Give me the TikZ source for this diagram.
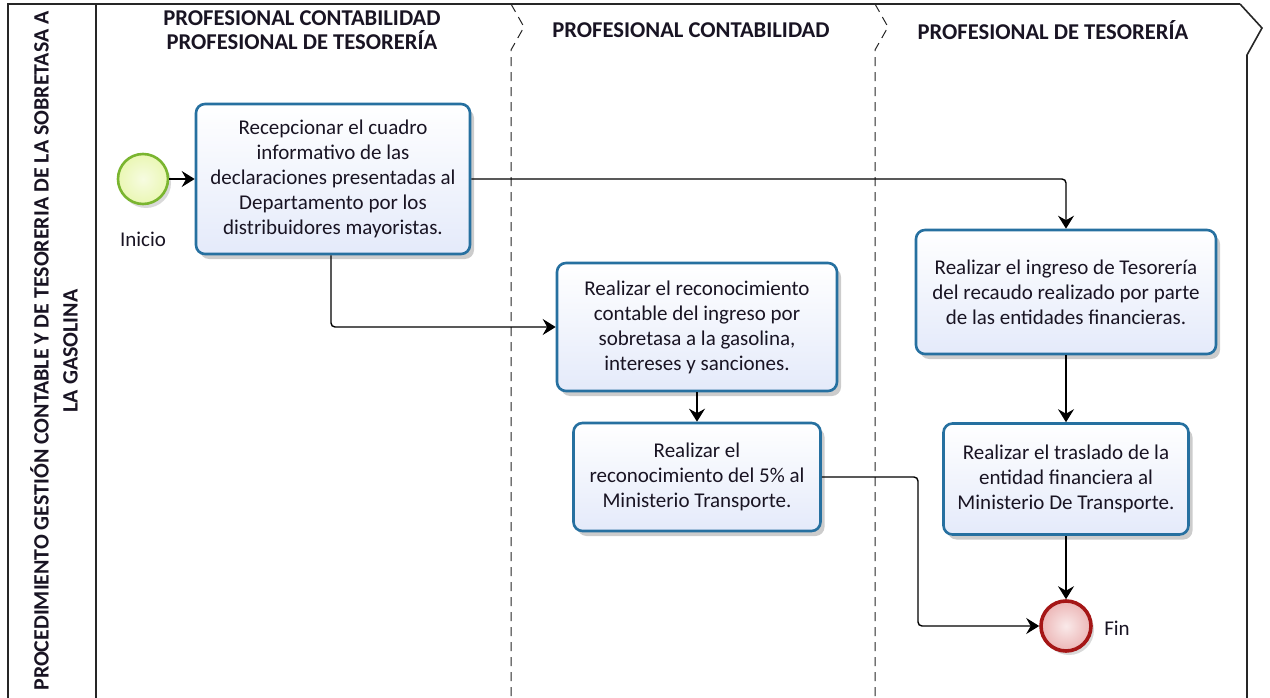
\documentclass[tikz,border=0pt]{standalone}
\usepackage{fontspec}
\setmainfont{Carlito}
\usetikzlibrary{arrows.meta,shadows}
\definecolor{boxblue}{RGB}{38,112,160}
\definecolor{boxfill}{RGB}{228,234,250}
\definecolor{startline}{RGB}{122,181,48}
\definecolor{startfill}{RGB}{234,247,180}
\definecolor{endline}{RGB}{165,22,22}
\definecolor{endfill}{RGB}{236,182,182}
\definecolor{txt}{RGB}{25,20,35}
\begin{document}
\begin{tikzpicture}[x=1pt,y=-1pt,
  font=\fontsize{21}{25}\selectfont, text=txt,
  task/.style={draw=boxblue, line width=2.6pt, rounded corners=9pt,
    top color=white, bottom color=boxfill, align=center, inner sep=0pt,
    drop shadow={shadow xshift=4pt, shadow yshift=-5pt, opacity=0.2, fill=black}},
  flow/.style={-{Stealth[length=13pt,width=16pt,inset=4.5pt]}, line width=1.4pt, rounded corners=4pt},
  hdr/.style={font=\fontsize{22.6}{24}\selectfont\bfseries, align=center},
  lanesep/.style={dash pattern=on 9pt off 6pt, line width=1pt, draw=black!85},
  frame/.style={line width=1.6pt, draw=black!85}]
\useasboundingbox (0,0) rectangle (1270,698);
\fill[white] (0,0) rectangle (1270,698);

% frame and lanes
\draw[frame] (1240,4) -- (8,4) -- (8,698);
\draw[frame] (96,4) -- (96,698);
\draw[frame] (1240,4) -- (1262,28) -- (1247,55) -- (1247,698);
\draw[lanesep] (511,4) -- (524,27) -- (511,50) -- (511,698);
\draw[lanesep] (875,4) -- (888,27) -- (875,50) -- (875,698);

% title
\node[rotate=90, font=\fontsize{21.9}{29}\selectfont\bfseries, align=center] (title) at (54,351)
  {PROCEDIMIENTO GESTIÓN CONTABLE Y DE TESORERIA DE LA SOBRETASA A\\LA GASOLINA};

% lane headers
\node[hdr] (h1) at (302,30) {PROFESIONAL CONTABILIDAD\\PROFESIONAL DE TESORERÍA};
\node[hdr] (h2) at (691,30) {PROFESIONAL CONTABILIDAD};
\node[hdr] (h3) at (1053,30) {PROFESIONAL DE TESORERÍA};

% events
\node[circle, minimum size=50pt, inner sep=0pt, draw=startline, line width=2.6pt,
  inner color=white!60!startfill, outer color=startfill,
  drop shadow={shadow xshift=3pt, shadow yshift=-4pt, opacity=0.15, fill=black}] (start) at (143,179) {};
\node (inicio) at (143,239) {Inicio};
\node[circle, minimum size=50pt, inner sep=0pt, draw=endline, line width=3.6pt,
  inner color=white!70!endfill, outer color=endfill,
  drop shadow={shadow xshift=3pt, shadow yshift=-4pt, opacity=0.15, fill=black}] (fin) at (1066,626) {};
\node (finl) at (1117,628) {Fin};

% tasks
\node[task, minimum width=274pt, minimum height=150pt] (b1) at (333,179)
  {Recepcionar el cuadro\\informativo de las\\declaraciones presentadas al\\Departamento por los\\distribuidores mayoristas.};
\node[task, minimum width=280pt, minimum height=128pt] (b2) at (697,327)
  {Realizar el reconocimiento\\contable del ingreso por\\sobretasa a la gasolina,\\intereses y sanciones.};
\node[task, minimum width=247pt, minimum height=108pt] (b3) at (697,477)
  {Realizar el\\reconocimiento del 5\% al\\Ministerio Transporte.};
\node[task, minimum width=300pt, minimum height=124pt] (b4) at (1066,292)
  {Realizar el ingreso de Tesorería\\del recaudo realizado por parte\\de las entidades financieras.};
\node[task, minimum width=245pt, minimum height=111pt] (b5) at (1066,479)
  {Realizar el traslado de la\\entidad financiera al\\Ministerio De Transporte.};

\coordinate (k) at (918,0);

% connectors
\draw[flow] (start) -- (b1);
\draw[flow] (b1.east) -| (b4.north);
\draw[flow] (b1.south -| 331,0) |- (b2.west);
\draw[flow] (b2.south) -- (b3.north);
\draw[flow] (b4.south) -- (b5.north);
\draw[flow] (b5.south) -- (fin.north);
\draw[flow] (b3.east) -| (k |- fin.west) -- (fin.west);
\end{tikzpicture}
\end{document}
